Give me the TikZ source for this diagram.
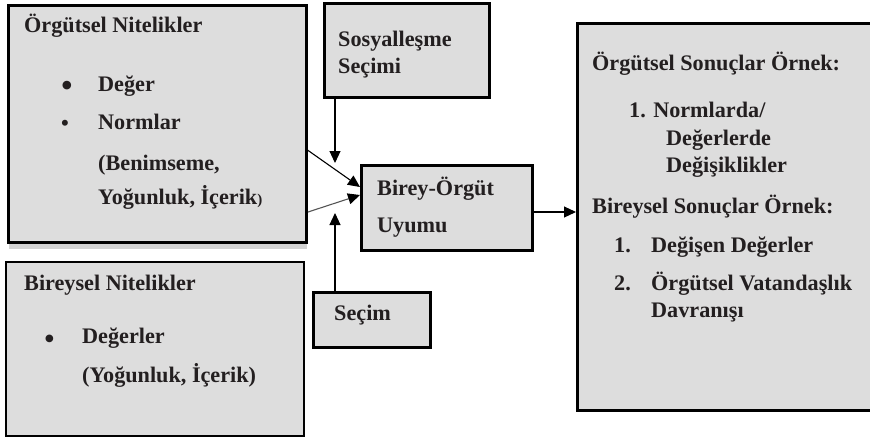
\documentclass[tikz,border=0pt]{standalone}
\usepackage{fontspec}
\setmainfont{Liberation Serif}
\usetikzlibrary{arrows.meta,shadows}
\definecolor{boxgray}{HTML}{DDDDDD}
\definecolor{ink}{HTML}{231F20}
\definecolor{greyline}{HTML}{555555}
\tikzset{
  boxst/.style={draw=black, fill=boxgray, line width=3pt, inner sep=0pt, anchor=north west},
  txt/.style={anchor=base west, inner sep=0pt, text=ink, font=\fontsize{22.2}{24}\selectfont\bfseries},
  bul/.style={anchor=base, inner sep=0pt, text=ink},
  arr/.style={line width=1.1pt, -{Triangle[length=12pt,width=11pt,color=black,fill=black]}},
}
\begin{document}
\begin{tikzpicture}[x=1pt,y=-1pt]
\useasboundingbox (0,0) rectangle (870,437);
\fill[white] (0,0) rectangle (870,437);
% boxes
\node[boxst, minimum width=298pt, minimum height=237pt,
  drop shadow={shadow xshift=0pt, shadow yshift=-6pt, opacity=0.35, fill=gray}] (b1) at (7,4) {};
\node[boxst, minimum width=165pt, minimum height=94pt] (sos) at (323,2) {};
\node[boxst, minimum width=171pt, minimum height=85pt] (bo) at (360,164) {};
\node[boxst, line width=2.2pt, minimum width=298pt, minimum height=174pt] (bn) at (5,261) {};
\node[boxst, line width=2.6pt, minimum width=117pt, minimum height=55pt] (sec) at (312,291) {};
\node[boxst, minimum width=300pt, minimum height=387pt] (rs) at (576,22) {};
% box 1 text
\node[txt] (t1) at (24,32) {Örgütsel Nitelikler};
\node[bul, font=\fontsize{36}{36}\selectfont] (u1) at (67,97) {•};
\node[txt] (t2) at (98,91) {Değer};
\node[bul, font=\fontsize{25}{25}\selectfont] (u2) at (65,131) {•};
\node[txt] (t3) at (98,129) {Normlar};
\node[txt] (t4) at (98,170) {(Benimseme,};
\node[txt] (t5) at (98,204) {Yoğunluk, İçerik{\fontsize{15}{15}\selectfont)}};
% sosyallesme
\node[txt] (s1) at (338,46) {Sosyalleşme};
\node[txt] (s2) at (338,73) {Seçimi};
% birey-orgut
\node[txt] (o1) at (377,195) {Birey-Örgüt};
\node[txt] (o2) at (377,232) {Uyumu};
% bireysel nitelikler
\node[txt] (n1) at (24,290) {Bireysel Nitelikler};
\node[bul, font=\fontsize{32}{32}\selectfont] (u3) at (49.5,349) {•};
\node[txt] (n2) at (82,343) {Değerler};
\node[txt] (n3) at (82,382) {(Yoğunluk, İçerik)};
% secim
\node[txt] (c1) at (334,320) {Seçim};
% right box
\node[txt] (r1) at (592,70) {Örgütsel Sonuçlar Örnek:};
\node[txt] (r2) at (629,117) {1. Normlarda/};
\node[txt] (r3) at (666,145) {Değerlerde};
\node[txt] (r4) at (666,172) {Değişiklikler};
\node[txt] (r5) at (592,213) {Bireysel Sonuçlar Örnek:};
\node[txt] (r6) at (614,252) {1.};
\node[txt] (r7) at (651,252) {Değişen Değerler};
\node[txt] (r8) at (614,290) {2.};
\node[txt] (r9) at (651,290) {Örgütsel Vatandaşlık};
\node[txt] (r10) at (651,317) {Davranışı};
% connectors
\coordinate (p1) at (335,163);
\coordinate (p2) at (335,213);
\draw[arr] (sos.south -| p1) -- (p1);
\draw[arr] (sec.north -| p2) -- (p2);
\draw[arr] ([xshift=-2pt]b1.east |- 0,149) -- ([yshift=-23pt]bo.north west);
\draw[arr, draw=greyline] (b1.east |- 0,212) -- ([yshift=-31pt]bo.north west);
\draw[arr] ([yshift=-4pt]bo.east) -- ([yshift=-4pt]bo.east -| rs.west);
\end{tikzpicture}
\end{document}
